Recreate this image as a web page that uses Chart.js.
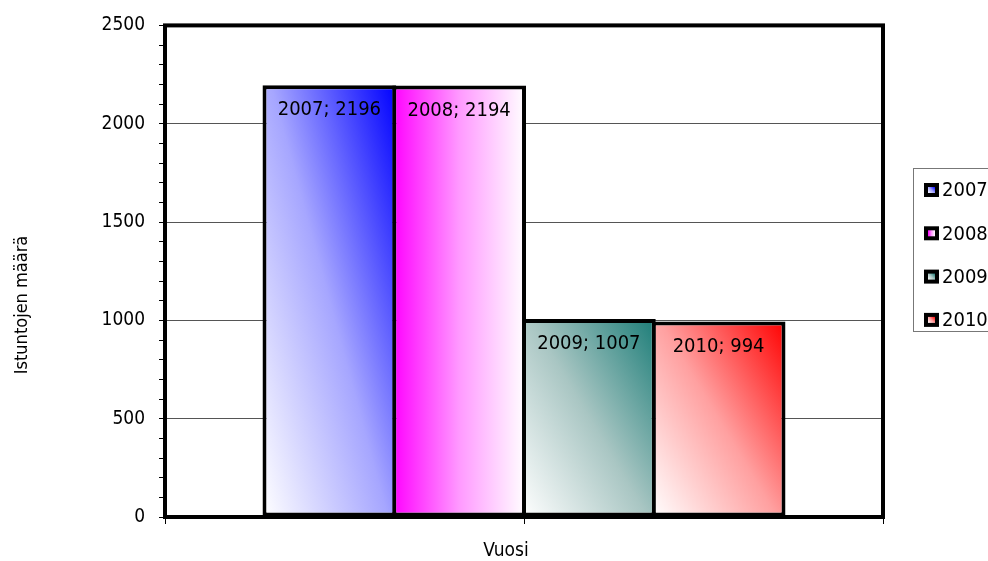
<!DOCTYPE html>
<html>
<head>
<meta charset="utf-8">
<script src="https://cdn.jsdelivr.net/npm/chart.js@4"></script>
<style>
  body { margin: 0; background: #fff; overflow: hidden; }
  canvas { display: block; }
</style>
</head>
<body>
<canvas id="sessionChart" width="988" height="561"></canvas>
<script>
// data
var years = ["2007", "2008", "2009", "2010"];
var sessions = [2196, 2194, 1007, 994];
var categories = [""];
var yMax = 2500;
var yMajor = 500;
var yMinor = 100;

// gradient styles per series: [start, middle, end], diag = bottom-left -> top-right
var gradKind = ["diag", "horiz", "diag", "diag"];
var gradStops = [
  ["#ffffff", "#a6a6ff", "#0000ff"],
  ["#ff00ff", "#ff99ff", "#ffffff"],
  ["#ffffff", "#a9c6c3", "#1c7d78"],
  ["#ffffff", "#ffa0a0", "#ff0000"],
];

var FONT = "'DejaVu Sans Condensed', 'DejaVu Sans', sans-serif";

function makeGrad(c, left, top, w, h, i) {
  var g;
  if (gradKind[i] === "horiz") {
    g = c.createLinearGradient(left, top, left + w, top);
  } else {
    // stretched diagonal, x weighted a bit more
    var a = 1.15;
    var k = (1 + a) / (a * a / (w * w) + 1 / (h * h));
    g = c.createLinearGradient(left, top + h, left + k * a / w, top + h - k / h);
  }
  g.addColorStop(0, gradStops[i][0]);
  g.addColorStop(0.5, gradStops[i][1]);
  g.addColorStop(1, gradStops[i][2]);
  return g;
}

function barFill(ctx) {
  var el = ctx.chart.getDatasetMeta(ctx.datasetIndex).data[ctx.dataIndex];
  var i = ctx.datasetIndex;
  if (!el || !el.width) return gradStops[i][1];
  var top = Math.min(el.y, el.base);
  var h = Math.abs(el.base - el.y);
  return makeGrad(ctx.chart.ctx, el.x - el.width / 2, top, el.width, h, i);
}

// frame, extra x tick, value labels, axis titles, legend
var decorations = {
  id: "decorations",
  afterDatasetsDraw: function (chart) {
    var c = chart.ctx;
    var a = chart.chartArea;
    c.save();
    // value labels inside bars
    c.font = "20px " + FONT;
    c.fillStyle = "#000";
    c.textAlign = "center";
    c.textBaseline = "middle";
    chart.data.datasets.forEach(function (ds, i) {
      var meta = chart.getDatasetMeta(i);
      meta.data.forEach(function (el, j) {
        c.fillText(years[i] + "; " + ds.data[j], el.x, el.y + 25);
      });
    });
    // thick frame
    c.strokeStyle = "#000";
    c.lineWidth = 4;
    c.strokeRect(a.left, a.top, a.right - a.left, a.bottom - a.top);
    // middle x tick
    var mid = chart.scales.x.getPixelForValue(0);
    c.lineWidth = 1;
    c.beginPath();
    c.moveTo(mid + 0.5, a.bottom);
    c.lineTo(mid + 0.5, a.bottom + 7);
    c.stroke();
    // axis titles
    c.font = "19px " + FONT;
    c.fillText("Vuosi", 506, 551);
    c.translate(22, 305);
    c.rotate(-Math.PI / 2);
    c.font = "18px " + FONT;
    c.fillText("Istuntojen määrä", 0, 0);
    c.restore();

    // legend
    c.save();
    var lx = a.right + 30, ly = 168;
    c.strokeStyle = "#777";
    c.lineWidth = 1;
    c.strokeRect(lx + 0.5, ly + 0.5, 120, 163);
    c.font = "20px " + FONT;
    c.textAlign = "left";
    c.textBaseline = "middle";
    years.forEach(function (y, i) {
      var cy = 190 + i * 43.3;
      var bx = lx + 11, by = cy - 7;
      c.fillStyle = "#000";
      c.fillRect(bx, by, 15, 14);
      c.fillStyle = makeGrad(c, bx + 4, by + 4, 7, 6, i);
      c.fillRect(bx + 4, by + 4, 7, 6);
      c.fillStyle = "#000";
      c.fillText(y, lx + 29, cy + 1);
    });
    c.restore();
  },
};

var ctx = document.getElementById("sessionChart").getContext("2d");
var datasets = years.map(function (y, i) {
  return {
    label: y,
    data: [sessions[i]],
    backgroundColor: barFill,
    borderColor: "#000",
    borderWidth: 4,
    borderSkipped: false,
    categoryPercentage: 0.7228,
    barPercentage: 1.031,
  };
});

var chart = new Chart(ctx, {
  type: "bar",
  data: { labels: categories, datasets: datasets },
  options: {
    responsive: false,
    animation: false,
    layout: { padding: { left: 100, right: 105, top: 24, bottom: 34 } },
    plugins: { legend: { display: false }, tooltip: { enabled: false } },
    scales: {
      x: {
        offset: true,
        grid: { offset: true, drawOnChartArea: false, color: "#000", tickLength: 7 },
        border: { display: false },
        ticks: { display: false },
        afterFit: function (s) { s.height = 10; },
      },
      y: {
        min: 0,
        max: yMax,
        border: { display: false },
        grid: {
          tickLength: 6,
          tickColor: "#000",
          color: function (c) {
            return c.tick && c.tick.value % yMajor === 0 ? "#555" : "rgba(0,0,0,0)";
          },
        },
        ticks: {
          stepSize: yMinor,
          autoSkip: false,
          padding: 14,
          color: "#000",
          font: { family: FONT, size: 19 },
          callback: function (v) { return v % yMajor === 0 ? v : ""; },
        },
        afterFit: function (s) { s.width = 65; },
      },
    },
  },
  plugins: [decorations],
});
// second pass so the gradients use the final bar geometry
chart.update();
</script>
</body>
</html>
